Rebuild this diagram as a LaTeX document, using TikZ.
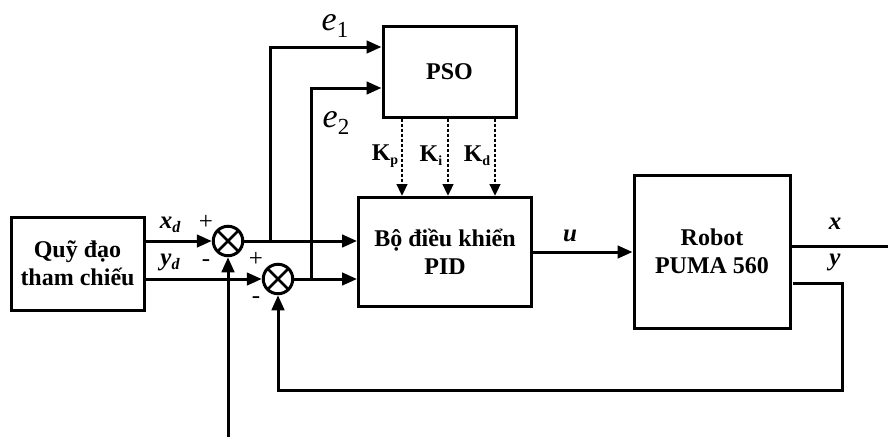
\documentclass[tikz,border=0pt]{standalone}
\usepackage{fontspec}
\setmainfont{Liberation Serif}
\usetikzlibrary{arrows.meta,calc}
\begin{document}
\begin{tikzpicture}[x=1pt,y=-1pt,
  lw/.style={line width=3pt},
  blk/.style={draw,lw,rectangle,inner sep=0pt,align=center,
    font=\fontsize{24}{28}\selectfont\bfseries},
  sumj/.style={draw,lw,circle,minimum size=29.5pt,inner sep=0pt,
    path picture={\draw[line width=2.8pt]
      (path picture bounding box.north west) -- (path picture bounding box.south east)
      (path picture bounding box.north east) -- (path picture bounding box.south west);}},
  arr/.style={lw,-{Triangle[length=15pt,width=12.5pt]}},
  plain/.style={lw},
  dotarr/.style={line width=2.7pt,dash pattern=on 3pt off 2pt,-{Triangle[length=12pt,width=10.5pt]}},
  lbl/.style={inner sep=0pt,font=\fontsize{25}{25}\selectfont\bfseries\itshape},
  sgn/.style={inner sep=0pt,font=\fontsize{25}{25}\selectfont},
  klbl/.style={inner sep=0pt,font=\fontsize{24}{24}\selectfont\bfseries},
  elbl/.style={inner sep=0pt,font=\fontsize{34}{34}\selectfont\itshape}
]
\useasboundingbox (0,0) rectangle (888,437);

% blocks
\node[blk,minimum width=133pt,minimum height=93pt] (ref) at (77.5,263.5) {Quỹ đạo\\tham chiếu};
\node[blk,minimum width=173pt,minimum height=109pt] (pid) at (445,252) {Bộ điều khiển\\PID};
\node[blk,minimum width=133pt,minimum height=91pt] (pso) at (449.5,71.5) {PSO};
\node[blk,minimum width=156pt,minimum height=153pt] (robot) at (712,251.5) {Robot\\PUMA 560};

% summing junctions
\node[sumj] (sum1) at (228,241) {};
\node[sumj] (sum2) at (278,279) {};

% coordinates
\coordinate (xdin) at (144,241);
\coordinate (ydin) at (144,279);
\coordinate (b1) at (270,241);
\coordinate (b2) at (311,279);
\coordinate (inp) at (228,437);
\coordinate (yout) at (793,283);
\coordinate (fbc) at (842,390);
\coordinate (xend) at (888,246);
\coordinate (k1) at (402,0);
\coordinate (k2) at (448,0);
\coordinate (k3) at (495,0);

% reference to sums
\draw[arr] (ref.east |- xdin) -- (sum1.west);
\draw[arr] (ref.east |- ydin) -- (sum2.west);

% sum outputs to PID
\draw[arr] (sum1.east) -- (pid.west |- sum1);
\draw[arr] (sum2.east) -- (pid.west |- sum2);

% branches to PSO
\draw[arr] (b1) |- ([yshift=24.5pt]pso.west);
\draw[arr] (b2) |- ([yshift=-16.5pt]pso.west);

% dotted gains
\draw[dotarr] (pso.south -| k1) -- (pid.north -| k1);
\draw[dotarr] (pso.south -| k2) -- (pid.north -| k2);
\draw[dotarr] (pso.south -| k3) -- (pid.north -| k3);

% PID to robot
\draw[arr] (pid.east) -- (robot.west |- pid.east);

% outputs
\draw[plain] (robot.east |- xend) -- (xend);
\draw[arr] (yout) -| (fbc) -| (sum2.south);

% bottom input
\draw[arr] (inp) -- (sum1.south);

% labels
\node[lbl] (lxd) at (170,225) {x\raisebox{-4pt}{\fontsize{16}{16}\selectfont d}};
\node[lbl] (lyd) at (170,262) {y\raisebox{-4pt}{\fontsize{16}{16}\selectfont d}};
\node[sgn] (p1) at (206,222) {+};
\node[sgn] (m1) at (206,263) {-};
\node[sgn] (p2) at (256,259) {+};
\node[sgn] (m2) at (256,300) {-};
\node[elbl] (le1) at (335,26) {e\raisebox{-7pt}{\upshape\fontsize{23}{23}\selectfont 1}};
\node[elbl] (le2) at (336,123) {e\raisebox{-7pt}{\upshape\fontsize{23}{23}\selectfont 2}};
\node[klbl] (lkp) at (385,156) {K\raisebox{-4pt}{\fontsize{14}{14}\selectfont p}};
\node[klbl] (lki) at (431,156) {K\raisebox{-4pt}{\fontsize{14}{14}\selectfont i}};
\node[klbl] (lkd) at (477,156) {K\raisebox{-4pt}{\fontsize{14}{14}\selectfont d}};
\node[lbl] (lu) at (570,236) {u};
\node[lbl] (lx) at (835,224) {x};
\node[lbl] (ly) at (835,262) {y};
\end{tikzpicture}
\end{document}
